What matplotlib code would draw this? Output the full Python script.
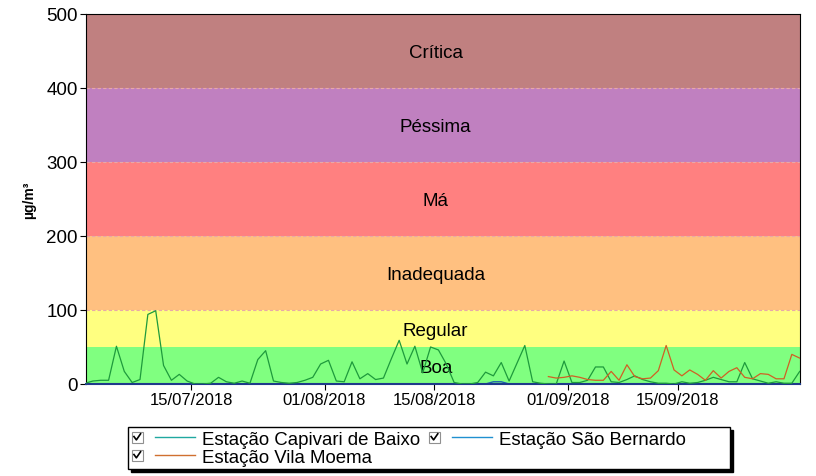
import numpy as np
import pandas as pd
import matplotlib
matplotlib.use('Agg')
import matplotlib.pyplot as plt
import matplotlib.dates as mdates
from matplotlib.legend_handler import HandlerBase
from matplotlib.patches import Rectangle
from matplotlib.lines import Line2D

plt.rcParams['font.family'] = ['Liberation Sans', 'DejaVu Sans']

# Daily values (ug/m3), one per day from 01/07/2018 to 30/09/2018
dates = pd.date_range('2018-07-01 12:00', '2018-09-30 12:00', freq='D')
capivari = [1, 4, 5, 5, 51, 17, 2, 6, 94, 99,
            25, 5, 13, 4, 0, 0, 1, 9, 3, 1,
            4, 1, 33, 45, 4, 2, 1, 2, 5, 9,
            27, 32, 4, 3, 30, 7, 14, 6, 8, 34,
            59, 27, 51, 15, 50, 46, 27, 2, 0, 0,
            2, 16, 11, 29, 4, 28, 52, 3, 1, 0,
            0, 31, 2, 2, 5, 23, 23, 3, 2, 6,
            11, 6, 3, 1, 1, 0, 3, 1, 2, 5,
            9, 6, 3, 3, 29, 7, 4, 1, 3, 1,
            1, 17]
sao_bernardo = [0, 0, 0, 0, 0, 0, 0, 0, 0, 0,
                0, 0, 0, 0, 0, 0, 0, 0, 0, 0,
                0, 0, 0, 0, 0, 0, 0, 0, 0, 0,
                0, 0, 0, 0, 0, 0, 0, 0, 0, 0,
                0, 0, 0, 0, 0, 0, 0, 0, 0, 0,
                0, 0, 3, 3, 0, 0, 0, 0, 0, 0,
                0, 0, 0, 0, 0, 0, 0, 0, 0, 0,
                0, 0, 0, 0, 0, 0, 0, 0, 0, 0,
                0, 0, 0, 0, 0, 0, 0, 0, 0, 0,
                0, 0]
# Vila Moema only reports from 29/08/2018
moema_dates = pd.date_range('2018-08-29 12:00', '2018-09-30 12:00', freq='D')
vila_moema = [10, 8, 9, 11, 9, 6, 5, 5, 17, 5,
              26, 10, 7, 8, 18, 52, 19, 11, 19, 13,
              5, 18, 8, 17, 22, 9, 7, 14, 13, 7,
              7, 40, 35]

# Air quality bands
band_edges = [0, 50, 100, 200, 300, 400, 500]
band_names = ['Boa', 'Regular', 'Inadequada', 'Má', 'Péssima', 'Crítica']
band_colors = ['#80ff80', '#ffff80', '#ffc080', '#ff8080', '#c080c0', '#c08080']

station_names = ['Estação Capivari de Baixo', 'Estação São Bernardo', 'Estação Vila Moema']
legend_colors = ['#20a8a0', '#2090d0', '#d07030']

fig = plt.figure(figsize=(8.16, 4.77), dpi=100)
ax = fig.add_axes([0.1054, 0.1929, 0.8746, 0.7757])

for lo, hi, c, name in zip(band_edges[:-1], band_edges[1:], band_colors, band_names):
    ax.axhspan(lo, hi, color=c, lw=0, zorder=0)
    ax.text(0.49, (lo + hi) / 2, name, transform=ax.get_yaxis_transform(),
            ha='center', va='center_baseline', fontsize=13.5, zorder=1)
for y in band_edges[2:-1]:
    ax.axhline(y, color='#e8a8a8', lw=0.8, ls=(0, (3, 2)), zorder=1)

ax.plot(dates, sao_bernardo, color='#1f5fb0', lw=1.0, zorder=2)
ax.plot(dates, capivari, color='#1e9a3c', lw=0.9, zorder=3)
ax.plot(moema_dates, vila_moema, color='#d06024', lw=0.9, zorder=4)

ax.set_ylim(0, 500)
ax.set_yticks(range(0, 501, 100))
ax.set_xlim(pd.Timestamp('2018-07-01 15:00'), pd.Timestamp('2018-09-30 12:00'))
ax.set_xticks(pd.to_datetime(['2018-07-15', '2018-08-01', '2018-08-15', '2018-09-01', '2018-09-15']))
ax.xaxis.set_major_formatter(mdates.DateFormatter('%d/%m/%Y'))
ax.tick_params(axis='x', labelsize=12, length=4, width=0.8, pad=2)
ax.tick_params(axis='y', labelsize=13.5, length=4, width=0.8, pad=2)
ax.set_ylabel('µg/m³', fontsize=10, fontweight='bold')
ax.yaxis.set_label_coords(-0.07, 0.5)
for s in ax.spines.values():
    s.set_linewidth(0.8)
ax.spines['bottom'].set_color('#1f3a8a')
ax.spines['bottom'].set_linewidth(1.5)


class CheckLine(HandlerBase):
    def create_artists(self, legend, orig, xdescent, ydescent, width, height, fontsize, trans):
        bs = height * 0.85
        x0 = -xdescent
        y0 = -ydescent + (height - bs) / 2
        box = Rectangle((x0, y0), bs, bs, facecolor='white', edgecolor='#909090',
                        lw=0.8, transform=trans)
        tick = Line2D([x0 + 0.2 * bs, x0 + 0.42 * bs, x0 + 0.8 * bs],
                      [y0 + 0.55 * bs, y0 + 0.25 * bs, y0 + 0.8 * bs],
                      color='black', lw=1.2, transform=trans)
        line = Line2D([x0 + width * 0.36, x0 + width], [-ydescent + height / 2] * 2,
                      color=orig.get_color(), lw=1, transform=trans)
        return [box, tick, line]


# column-major fill: Capivari / Vila Moema in the first column, São Bernardo in the second
order = [0, 2, 1]
handles = [Line2D([], [], color=legend_colors[i]) for i in order]
labels = [station_names[i] for i in order]
labels[2] = labels[2] + ' ' * 8  # the original box leaves empty room on the right
leg = fig.legend(handles, labels, loc='upper left', bbox_to_anchor=(128 / 816, 0.103),
                 ncol=2, fontsize=13.4, frameon=True, fancybox=False,
                 shadow={'color': 'black', 'alpha': 1},
                 handler_map={Line2D: CheckLine()}, handlelength=3.4, handletextpad=0.35,
                 columnspacing=0.5, borderpad=0.2, labelspacing=0.05, borderaxespad=0)
leg.get_frame().set_edgecolor('black')
leg.get_frame().set_linewidth(1)

fig.savefig('out.png', dpi=100)
